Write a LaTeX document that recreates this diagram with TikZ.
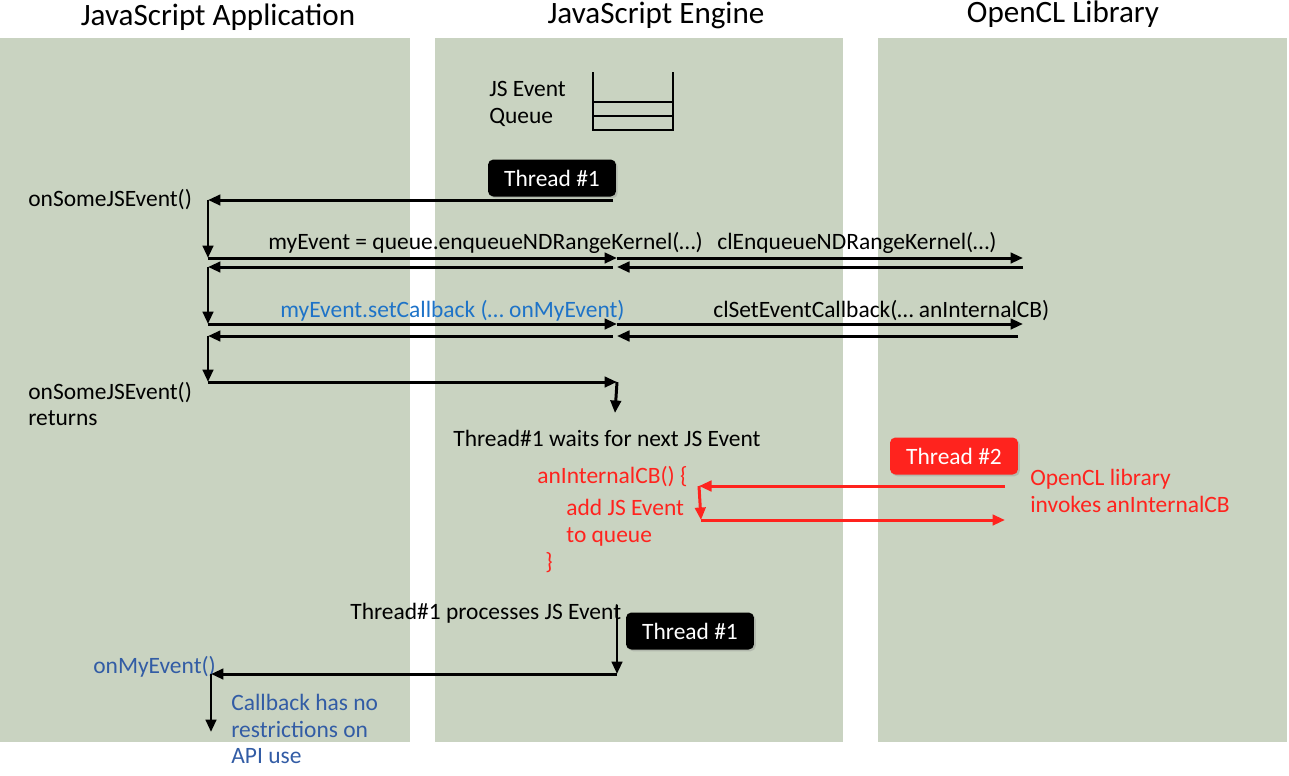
\documentclass[tikz,border=0pt]{standalone}
\usepackage{fontspec}
\setmainfont{Carlito}
\usepackage{xcolor}
\usetikzlibrary{positioning, arrows.meta, shadows}

\definecolor{lanegreen}{RGB}{201,211,193}
\definecolor{cbblue}{RGB}{30,115,200}
\definecolor{jsblue}{RGB}{50,92,165}
\definecolor{thrred}{RGB}{255,35,30}

\begin{document}
\begin{tikzpicture}[
    x=0.02cm, y=-0.02cm,
    every node/.style={font=\fontsize{13.35}{15.3}\selectfont, inner sep=0pt},
    lane/.style={fill=lanegreen, draw=none},
    title/.style={font=\fontsize{17.7}{20}\selectfont},
    lbl/.style={anchor=west, align=left},
    thread/.style={fill=black, text=white, rounded corners=3pt,
                   minimum width=2.56cm, minimum height=0.74cm,
                   drop shadow={opacity=0.3, shadow xshift=1pt, shadow yshift=-1pt}},
    redthread/.style={thread, fill=thrred},
    arrow/.style={-{Triangle[length=0.25cm, width=0.21cm]}, line width=1.7pt},
    redarrow/.style={arrow, thrred},
]
\useasboundingbox (0,0) rectangle (1289,775);

% --- Lanes ---
\fill[lane] (0,38)   rectangle (410,742);
\fill[lane] (435,38) rectangle (843,742);
\fill[lane] (878,38) rectangle (1287,742);

\node[title] (tApp) at (218,17) {JavaScript Application};
\node[title] (tEng) at (656,15) {JavaScript Engine};
\node[title] (tOcl) at (1063,14) {OpenCL Library};

% --- Event queue ---
\node[lbl] (queue) at (489,104) {JS Event\\Queue};
\draw[line width=1.7pt] (593,72) -- (593,130) -- (673,130) -- (673,72);
\draw[line width=1.7pt] (593,102) -- (673,102) (593,116) -- (673,116);

% --- Thread #1 starts the JS event ---
\node[thread] (thr1) at (552,178) {Thread \#1};
\node[lbl] (onSome) at (28,200) {onSomeJSEvent()};

\coordinate (e0) at (613,200);
\coordinate (a0) at (208,200);
\coordinate (a1) at (208,258);
\coordinate (e1) at (617,258);
\coordinate (o1) at (1023,258);
\coordinate (o1r) at (1023,267);
\coordinate (e1r) at (617,267);
\coordinate (e1l) at (613,267);
\coordinate (a1r) at (208,267);
\coordinate (a2) at (208,324);
\coordinate (e2) at (617,324);
\coordinate (o2) at (1023,324);
\coordinate (o2r) at (1018,336);
\coordinate (e2r) at (617,336);
\coordinate (e2l) at (613,336);
\coordinate (a2r) at (208,336);
\coordinate (a3) at (208,382);
\coordinate (e3) at (617,382);
\coordinate (e3d) at (615,413);

\node[lbl] (enqJS) at (268,243) {myEvent = queue.enqueueNDRangeKernel(…)};
\node[lbl] (enqCL) at (717,243) {clEnqueueNDRangeKernel(…)};
\node[lbl, text=cbblue] (cbJS) at (280,311) {myEvent.setCallback (… onMyEvent)};
\node[lbl] (cbCL) at (713,311) {clSetEventCallback(… anInternalCB)};
\node[lbl] (ret) at (28,404) {onSomeJSEvent()\\returns};
\node[lbl] (wait) at (453,438) {Thread\#1 waits for next JS Event};

\draw[arrow] (e0) -- (a0);
\draw[arrow] (a0) -- (a1);
\draw[arrow] (a1) -- (e1);
\draw[arrow] (e1) -- (o1);
\draw[arrow] (o1r) -- (e1r);
\draw[arrow] (e1l) -- (a1r);
\draw[arrow] (a1r) -- (a2);
\draw[arrow] (a2) -- (e2);
\draw[arrow] (e2) -- (o2);
\draw[arrow] (o2r) -- (e2r);
\draw[arrow] (e2l) -- (a2r);
\draw[arrow] (a2r) -- (a3);
\draw[arrow] (a3) -- (e3);
\draw[arrow] (e3) -- (e3d);

% --- Thread #2 in the OpenCL library ---
\node[redthread] (thr2) at (954,456) {Thread \#2};
\node[lbl, text=thrred] (invoke) at (1030,491) {OpenCL library\\invokes anInternalCB};
\node[lbl, text=thrred] (cbOpen) at (537,477) {anInternalCB() \{};
\node[lbl, text=thrred] (cbBody) at (566,523) {add JS Event\\to queue};
\node[lbl, text=thrred] (cbClose) at (545,563) {\}};

\coordinate (r0) at (1005,486);
\coordinate (r1) at (699,486);
\coordinate (r2) at (701,520);
\coordinate (r3) at (1005,520);
\draw[redarrow] (r0) -- (r1);
\draw[redarrow] (r1) -- (r2);
\draw[redarrow] (r2) -- (r3);

% --- Thread #1 runs the callback ---
\node[lbl] (proc) at (350,613) {Thread\#1 processes JS Event};
\node[thread] (thr1b) at (690,631) {Thread \#1};
\node[lbl, text=jsblue] (onMy) at (93,667) {onMyEvent()};
\node[lbl, text=jsblue] (note) at (231,729) {Callback has no\\restrictions on\\API use};

\coordinate (b0) at (617,605);
\coordinate (b1) at (617,674);
\coordinate (b2) at (211,674);
\coordinate (b3) at (211,732);
\draw[arrow] (b0) -- (b1);
\draw[arrow] (b1) -- (b2);
\draw[arrow] (b2) -- (b3);
\end{tikzpicture}
\end{document}
